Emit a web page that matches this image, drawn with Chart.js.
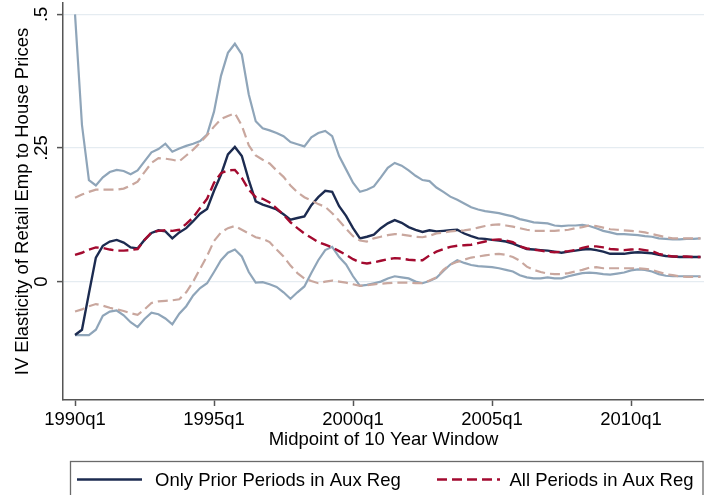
<!DOCTYPE html>
<html>
<head>
<meta charset="utf-8">
<script src="https://cdn.jsdelivr.net/npm/chart.js@4.4.1/dist/chart.umd.min.js"></script>
<style>
  html, body { margin: 0; padding: 0; background: #fff; }
  #wrap { width: 704px; height: 495px; }
</style>
</head>
<body>
<div id="wrap"><canvas id="elasticityChart"></canvas></div>
<script>
// quarters 1990q1 .. 2012q3 (midpoint of 10 year window)
const quarters = [];
for (let y = 1990; y <= 2012; y++) {
    for (let q = 1; q <= 4; q++) {
        if (quarters.length < 91) quarters.push(`${y}q${q}`);
    }
}

const xTickLabels = ["1990q1", "1995q1", "2000q1", "2005q1", "2010q1"];
const yTickValues = [0, 0.25, 0.5];
const yTickLabels = ["0", ".25", ".5"];

const onlyPrior = [
    -0.100, -0.090, -0.022, 0.045, 0.067, 0.075, 0.078, 0.073, 0.064, 0.062,
    0.078, 0.091, 0.096, 0.094, 0.081, 0.092, 0.100, 0.113, 0.127, 0.136,
    0.170, 0.200, 0.238, 0.252, 0.235, 0.190, 0.150, 0.144, 0.140, 0.135,
    0.126, 0.116, 0.119, 0.122, 0.143, 0.158, 0.170, 0.168, 0.141, 0.123,
    0.100, 0.081, 0.084, 0.088, 0.100, 0.109, 0.115, 0.110, 0.102, 0.097,
    0.093, 0.096, 0.094, 0.095, 0.096, 0.097, 0.090, 0.085, 0.081, 0.080,
    0.078, 0.077, 0.075, 0.071, 0.066, 0.061, 0.060, 0.059, 0.058, 0.056,
    0.054, 0.056, 0.058, 0.060, 0.061, 0.059, 0.056, 0.052, 0.052, 0.052,
    0.054, 0.055, 0.054, 0.053, 0.050, 0.048, 0.047, 0.046, 0.046, 0.046,
    0.046
];
const onlyPriorHi = [
    0.500, 0.293, 0.190, 0.180, 0.195, 0.205, 0.209, 0.207, 0.201, 0.208,
    0.225, 0.242, 0.248, 0.258, 0.243, 0.249, 0.254, 0.258, 0.263, 0.275,
    0.318, 0.385, 0.428, 0.445, 0.425, 0.350, 0.300, 0.287, 0.283, 0.278,
    0.272, 0.261, 0.257, 0.253, 0.270, 0.278, 0.282, 0.272, 0.235, 0.210,
    0.185, 0.168, 0.172, 0.178, 0.195, 0.213, 0.222, 0.217, 0.208, 0.198,
    0.190, 0.188, 0.176, 0.168, 0.159, 0.153, 0.146, 0.139, 0.135, 0.132,
    0.130, 0.128, 0.125, 0.122, 0.117, 0.114, 0.111, 0.110, 0.109, 0.105,
    0.104, 0.105, 0.105, 0.106, 0.104, 0.100, 0.095, 0.092, 0.089, 0.089,
    0.088, 0.087, 0.085, 0.084, 0.081, 0.080, 0.079, 0.079, 0.080, 0.080,
    0.081
];
const onlyPriorLo = [
    -0.100, -0.100, -0.100, -0.090, -0.064, -0.056, -0.054, -0.063, -0.076, -0.085,
    -0.070, -0.058, -0.061, -0.069, -0.080, -0.060, -0.046, -0.026, -0.012, -0.003,
    0.018, 0.040, 0.054, 0.060, 0.047, 0.018, -0.002, -0.001, -0.005, -0.010,
    -0.020, -0.032, -0.020, -0.009, 0.016, 0.040, 0.059, 0.065, 0.046, 0.032,
    0.010, -0.008, -0.006, -0.003, 0.000, 0.006, 0.010, 0.008, 0.006, 0.000,
    -0.003, 0.001, 0.007, 0.020, 0.032, 0.040, 0.035, 0.031, 0.029, 0.028,
    0.027, 0.025, 0.022, 0.019, 0.012, 0.008, 0.006, 0.006, 0.008, 0.006,
    0.006, 0.010, 0.013, 0.016, 0.017, 0.016, 0.014, 0.013, 0.015, 0.017,
    0.021, 0.023, 0.022, 0.019, 0.014, 0.011, 0.010, 0.010, 0.010, 0.010,
    0.010
];
const allPeriods = [
    0.050, 0.054, 0.060, 0.064, 0.063, 0.060, 0.058, 0.058, 0.059, 0.061,
    0.078, 0.092, 0.095, 0.096, 0.095, 0.097, 0.108, 0.120, 0.138, 0.155,
    0.185, 0.203, 0.208, 0.209, 0.194, 0.172, 0.158, 0.155, 0.148, 0.137,
    0.125, 0.111, 0.100, 0.090, 0.082, 0.074, 0.069, 0.064, 0.057, 0.050,
    0.042, 0.036, 0.034, 0.036, 0.039, 0.042, 0.044, 0.043, 0.041, 0.040,
    0.040, 0.049, 0.056, 0.061, 0.065, 0.067, 0.068, 0.069, 0.072, 0.075,
    0.078, 0.079, 0.077, 0.074, 0.066, 0.062, 0.060, 0.058, 0.056, 0.055,
    0.056, 0.057, 0.059, 0.063, 0.066, 0.066, 0.064, 0.061, 0.060, 0.059,
    0.060, 0.061, 0.059, 0.057, 0.052, 0.049, 0.047, 0.047, 0.047, 0.046,
    0.046
];
const allPeriodsHi = [
    0.157, 0.163, 0.168, 0.172, 0.172, 0.172, 0.172, 0.174, 0.180, 0.187,
    0.205, 0.222, 0.231, 0.230, 0.228, 0.225, 0.236, 0.247, 0.260, 0.274,
    0.290, 0.304, 0.310, 0.315, 0.292, 0.255, 0.236, 0.228, 0.221, 0.208,
    0.196, 0.180, 0.167, 0.158, 0.152, 0.145, 0.140, 0.128, 0.114, 0.099,
    0.085, 0.077, 0.075, 0.081, 0.084, 0.087, 0.089, 0.088, 0.086, 0.084,
    0.083, 0.086, 0.090, 0.092, 0.094, 0.095, 0.096, 0.098, 0.101, 0.104,
    0.106, 0.107, 0.105, 0.103, 0.100, 0.097, 0.095, 0.095, 0.095, 0.095,
    0.096, 0.097, 0.100, 0.102, 0.105, 0.104, 0.101, 0.098, 0.097, 0.096,
    0.095, 0.094, 0.092, 0.089, 0.086, 0.083, 0.081, 0.081, 0.081, 0.081,
    0.081
];
const allPeriodsLo = [
    -0.056, -0.052, -0.046, -0.042, -0.045, -0.049, -0.052, -0.055, -0.059, -0.062,
    -0.052, -0.040, -0.037, -0.036, -0.035, -0.033, -0.020, 0.000, 0.024, 0.048,
    0.076, 0.092, 0.100, 0.104, 0.097, 0.090, 0.083, 0.080, 0.074, 0.060,
    0.047, 0.030, 0.016, 0.006, 0.001, -0.003, 0.000, 0.002, 0.000, -0.002,
    -0.005, -0.008, -0.007, -0.005, -0.004, -0.003, -0.002, -0.002, -0.002, -0.003,
    -0.003, 0.002, 0.008, 0.022, 0.032, 0.037, 0.041, 0.045, 0.047, 0.049,
    0.051, 0.052, 0.050, 0.046, 0.039, 0.028, 0.022, 0.018, 0.015, 0.014,
    0.014, 0.016, 0.019, 0.022, 0.026, 0.027, 0.025, 0.025, 0.025, 0.025,
    0.025, 0.025, 0.024, 0.022, 0.018, 0.014, 0.012, 0.010, 0.009, 0.009,
    0.009
];

const NAVY = "#1c2b50";
const BAND_BLUE = "#8fa5b9";
const MAROON = "#a30a2f";
const BAND_ROSE = "#c9a79e";
const AXIS = "#555555";
const FONT = '"Liberation Sans", Arial, Helvetica, sans-serif';
const FONT_SIZE = 18.5;

const toPoints = (arr) => arr.map((v, i) => ({ x: i, y: v }));

const lineSet = (label, data, color, width, dash) => ({
    label,
    data: toPoints(data),
    borderColor: color,
    backgroundColor: color,
    borderWidth: width,
    borderDash: dash,
    pointRadius: 0,
    tension: 0,
    fill: false
});

// titles, rotated y labels and the boxed legend, drawn the Stata way
const stataText = {
    id: "stataText",
    afterDraw(chart) {
        const { ctx, chartArea, scales } = chart;
        ctx.save();
        ctx.fillStyle = "#000";
        ctx.font = `${FONT_SIZE}px ${FONT}`;
        ctx.textBaseline = "alphabetic";

        yTickValues.forEach((v, i) => {
            const py = scales.y.getPixelForValue(v);
            ctx.save();
            ctx.translate(46.5, py);
            ctx.rotate(-Math.PI / 2);
            ctx.textAlign = "center";
            ctx.fillText(yTickLabels[i], 0, 0);
            ctx.restore();
        });

        ctx.save();
        ctx.translate(28, (chartArea.top + chartArea.bottom) / 2);
        ctx.rotate(-Math.PI / 2);
        ctx.textAlign = "center";
        ctx.fillText("IV Elasticity of Retail Emp to House Prices", 0, 0);
        ctx.restore();

        ctx.textAlign = "center";
        ctx.fillText("Midpoint of 10 Year Window", (chartArea.left + chartArea.right) / 2, 444.5);

        // legend
        ctx.strokeStyle = "#6a6a6a";
        ctx.lineWidth = 1.3;
        ctx.strokeRect(70.5, 461.5, 632.5, 60);

        const rowY = 479.5;
        ctx.lineWidth = 2.4;
        ctx.strokeStyle = NAVY;
        ctx.beginPath();
        ctx.moveTo(77, rowY);
        ctx.lineTo(142, rowY);
        ctx.stroke();

        ctx.strokeStyle = MAROON;
        ctx.setLineDash([10, 5]);
        ctx.beginPath();
        ctx.moveTo(437, rowY);
        ctx.lineTo(500, rowY);
        ctx.stroke();
        ctx.setLineDash([]);

        ctx.textAlign = "left";
        ctx.fillText("Only Prior Periods in Aux Reg", 155, 485.5);
        ctx.fillText("All Periods in Aux Reg", 509.5, 485.5);
        ctx.restore();
    }
};

document.addEventListener("DOMContentLoaded", () => {
    Chart.defaults.font.family = FONT;
    Chart.defaults.font.size = FONT_SIZE;
    Chart.defaults.color = "#000";

    const xTickPositions = xTickLabels.map(l => quarters.indexOf(l));

    new Chart(document.getElementById("elasticityChart"), {
        type: "line",
        data: {
            datasets: [
                lineSet("All Periods in Aux Reg", allPeriods, MAROON, 2.4, [10, 5]),
                lineSet("All Periods upper", allPeriodsHi, BAND_ROSE, 2.2, [10, 5]),
                lineSet("All Periods lower", allPeriodsLo, BAND_ROSE, 2.2, [10, 5]),
                lineSet("Only Prior Periods in Aux Reg", onlyPrior, NAVY, 2.4, []),
                lineSet("Only Prior upper", onlyPriorHi, BAND_BLUE, 2.2, []),
                lineSet("Only Prior lower", onlyPriorLo, BAND_BLUE, 2.2, [])
            ]
        },
        options: {
            responsive: true,
            maintainAspectRatio: false,
            animation: false,
            layout: { padding: { top: 3, right: 0, bottom: 0, left: 0 } },
            plugins: {
                legend: { display: false },
                tooltip: { enabled: false }
            },
            scales: {
                x: {
                    type: "linear",
                    min: -1.73,
                    max: 90.5,
                    afterBuildTicks: axis => { axis.ticks = xTickPositions.map(v => ({ value: v })); },
                    afterFit: axis => { axis.height = 95; },
                    ticks: {
                        autoSkip: false,
                        maxRotation: 0,
                        padding: 3,
                        color: "#000",
                        callback: value => quarters[value]
                    },
                    grid: {
                        drawOnChartArea: false,
                        drawTicks: true,
                        tickLength: 6,
                        tickColor: AXIS,
                        tickWidth: 1.5
                    },
                    border: { display: true, color: AXIS, width: 1.5 }
                },
                y: {
                    type: "linear",
                    min: -0.2215,
                    max: 0.5213,
                    afterBuildTicks: axis => { axis.ticks = yTickValues.map(v => ({ value: v })); },
                    afterFit: axis => { axis.width = 63; },
                    ticks: { display: false },
                    grid: {
                        color: "#e5ecf1",
                        lineWidth: 1.2,
                        drawTicks: true,
                        tickLength: 6,
                        tickColor: AXIS,
                        tickWidth: 1.5
                    },
                    border: { display: true, color: AXIS, width: 1.5 }
                }
            }
        },
        plugins: [stataText]
    });
});
</script>
</body>
</html>
